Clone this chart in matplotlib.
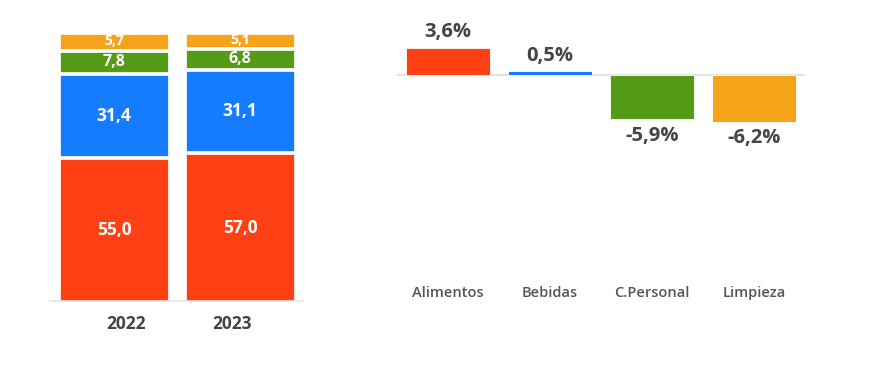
import numpy as np
import matplotlib
matplotlib.use('Agg')
import matplotlib.pyplot as plt

plt.rcParams['font.family'] = ['Open Sans', 'DejaVu Sans']

# datos
years = ['2022', '2023']
alimentos = [55.0, 57.0]
bebidas = [31.4, 31.1]
cpersonal = [7.8, 6.8]
limpieza = [5.7, 5.1]

categorias = ['Alimentos', 'Bebidas', 'C.Personal', 'Limpieza']
variacion = [3.6, 0.5, -5.9, -6.2]

colores = ['#FF4015', '#167CFF', '#559B17', '#F5A41A']

fig = plt.figure(figsize=(8.79, 3.65), dpi=100)

# grafico apilado (con separacion blanca entre segmentos)
ax1 = fig.add_axes([50/879, 1-301/365, 253/879, 267/365])
x = np.arange(len(years))
gap = 1.25
bottom = np.zeros(len(years))
sizes = [12.5, 12.5, 11.5, 10]
for i, (serie, col, fs) in enumerate(zip([alimentos, bebidas, cpersonal, limpieza], colores, sizes)):
    serie = np.array(serie)
    b = bottom + i * gap
    ax1.bar(x, serie, 0.86, bottom=b, color=col, edgecolor='#ffffff', linewidth=0.5)
    for xi, bb, v in zip(x, b, serie):
        ax1.text(xi, bb + v/2, f'{v:.1f}'.replace('.', ','), ha='center', va='center',
                 color='white', fontsize=fs, fontweight='bold')
    bottom = bottom + serie
ax1.set_xlim(-0.508, 1.5)
ax1.set_ylim(0, 103.6)
ax1.set_xticks([0.095, 0.933])
ax1.set_xticklabels(years, fontsize=12.5, fontweight='bold', color='#444444')
ax1.tick_params(axis='x', length=0, pad=10)
ax1.set_yticks([])
for s in ['top', 'right', 'left']:
    ax1.spines[s].set_visible(False)
ax1.spines['bottom'].set_color('#e6e6e6')
ax1.spines['bottom'].set_linewidth(1.2)

# grafico de variacion
ax2 = fig.add_axes([397/879, 1-280/365, 408/879, 250/365])
xc = np.arange(len(categorias))
ax2.bar(xc, variacion, 0.82, color=colores, edgecolor='white', linewidth=0.6, zorder=2)
ax2.axhline(0, color='#dddddd', linewidth=1.2, zorder=1)
for xi, v in zip(xc, variacion):
    off = 2.1 if v >= 0 else -2.2
    ax2.text(xi, v + off, f'{v:.1f}%'.replace('.', ','), ha='center', va='center',
             color='#444444', fontsize=14.5, fontweight='bold')
ax2.set_xlim(-0.5, 3.5)
ax2.set_ylim(-27.3, 6.0)
ax2.set_xticks(xc)
ax2.set_xticklabels(categorias, fontsize=10.5, fontweight='semibold', color='#555555')
ax2.tick_params(axis='x', length=0, pad=4)
ax2.set_yticks([])
for s in ax2.spines.values():
    s.set_visible(False)

plt.savefig('out.png', dpi=100)
